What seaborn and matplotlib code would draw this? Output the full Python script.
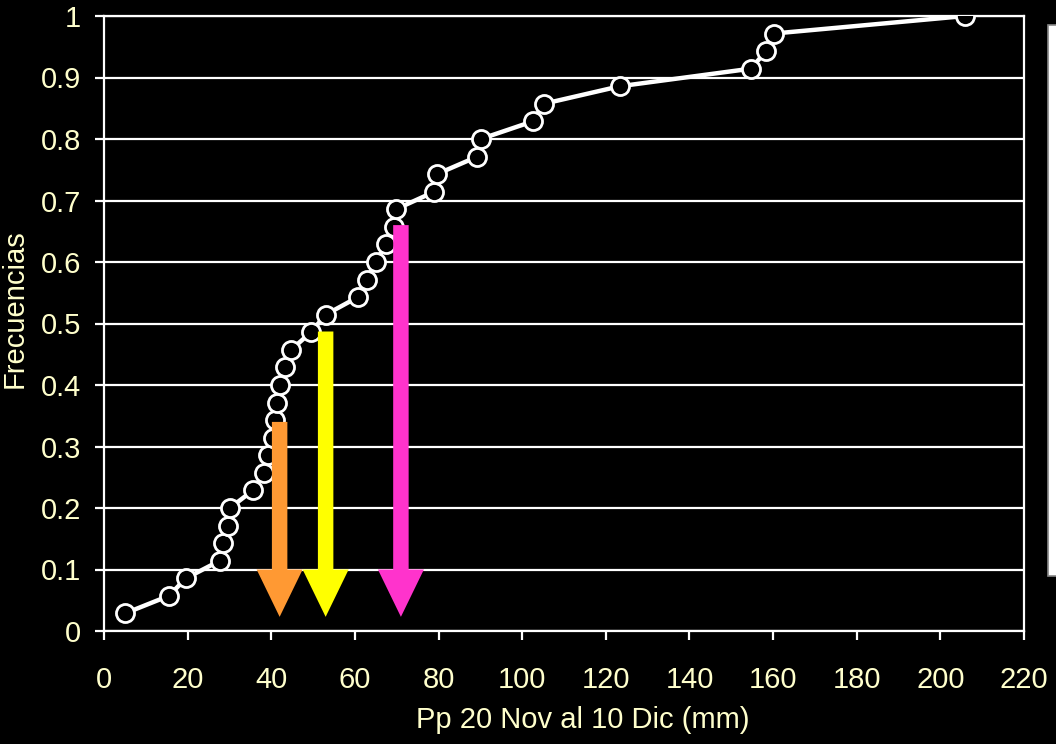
import numpy as np
import pandas as pd
import seaborn as sns
import matplotlib.pyplot as plt
from matplotlib.patches import Rectangle

# Datos (precipitacion acumulada vs frecuencia)
pp_mm = [5.0, 15.5, 19.6, 27.7, 28.4, 29.6, 30.1, 35.6, 38.2, 39.2,
         40.4, 41.0, 41.3, 42.0, 43.2, 44.7, 49.5, 53.0, 60.7, 62.8,
         65.0, 67.4, 69.3, 69.8, 79.0, 79.6, 89.3, 90.1, 102.5, 105.1,
         123.3, 154.6, 158.4, 160.1, 205.9]
frecuencia = [(i + 1) / 35 for i in range(35)]

# Flechas (terciles / mediana)
flecha_x = [42, 53, 71]
flecha_top = [0.34, 0.487, 0.66]
flecha_tip = 0.023
flecha_col = ["#FF9933", "#FFFF00", "#FF33CC"]

x_ticks = list(range(0, 221, 20))
y_ticks = [0, 0.1, 0.2, 0.3, 0.4, 0.5, 0.6, 0.7, 0.8, 0.9, 1]
y_labels = ["0", "0.1", "0.2", "0.3", "0.4", "0.5", "0.6", "0.7", "0.8", "0.9", "1"]

texto = "#FFFFCC"

sns.set_theme(style="white", rc={"figure.facecolor": "black", "axes.facecolor": "black"})
plt.rcParams['font.family'] = ['Liberation Sans', 'DejaVu Sans']

df = pd.DataFrame({"pp": pp_mm, "frec": frecuencia})

fig = plt.figure(figsize=(10.56, 7.44), dpi=100)
ax = fig.add_axes([104 / 1056, 1 - 631 / 744, 920 / 1056, 615 / 744])

ax.set_xlim(0, 220)
ax.set_ylim(0, 1)

# grid horizontal
for yv in y_ticks:
    ax.axhline(yv, color="white", lw=1.6, zorder=1)

sns.lineplot(data=df, x="pp", y="frec", ax=ax, color="white", lw=3.2,
             marker="o", markersize=13, markerfacecolor="black",
             markeredgecolor="white", markeredgewidth=2.0,
             estimator=None, sort=False, zorder=3)

for xv, top, col in zip(flecha_x, flecha_top, flecha_col):
    ax.arrow(xv, top, 0, flecha_tip - top, width=3.7, head_width=11,
             head_length=0.077, length_includes_head=True,
             facecolor=col, edgecolor="none", zorder=5)

ax.set_xticks(x_ticks)
ax.set_xticklabels([str(v) for v in x_ticks])
ax.set_yticks(y_ticks)
ax.set_yticklabels(y_labels)
ax.tick_params(axis="both", colors="white", labelcolor=texto, labelsize=21,
               direction="out", length=6.5, width=1.6)
ax.tick_params(axis="x", bottom=True, pad=19)
ax.tick_params(axis="y", left=True, pad=10)
for sp in ax.spines.values():
    sp.set_color("white")
    sp.set_linewidth(1.6)

ax.set_xlabel("Pp 20 Nov al 10 Dic (mm)", color=texto, fontsize=21)
ax.xaxis.set_label_coords(0.52, -0.122)
ax.set_ylabel("Frecuencias", color=texto, fontsize=21)
ax.yaxis.set_label_coords(-0.082, 0.525)

# recuadro de leyenda cortado a la derecha
fig.patches.append(Rectangle((1048 / 1056, 1 - 576 / 744), 0.03, 551 / 744,
                             transform=fig.transFigure, facecolor="white",
                             edgecolor="#888888", lw=1.2, figure=fig))

fig.savefig("out.png", dpi=100, facecolor="black")
